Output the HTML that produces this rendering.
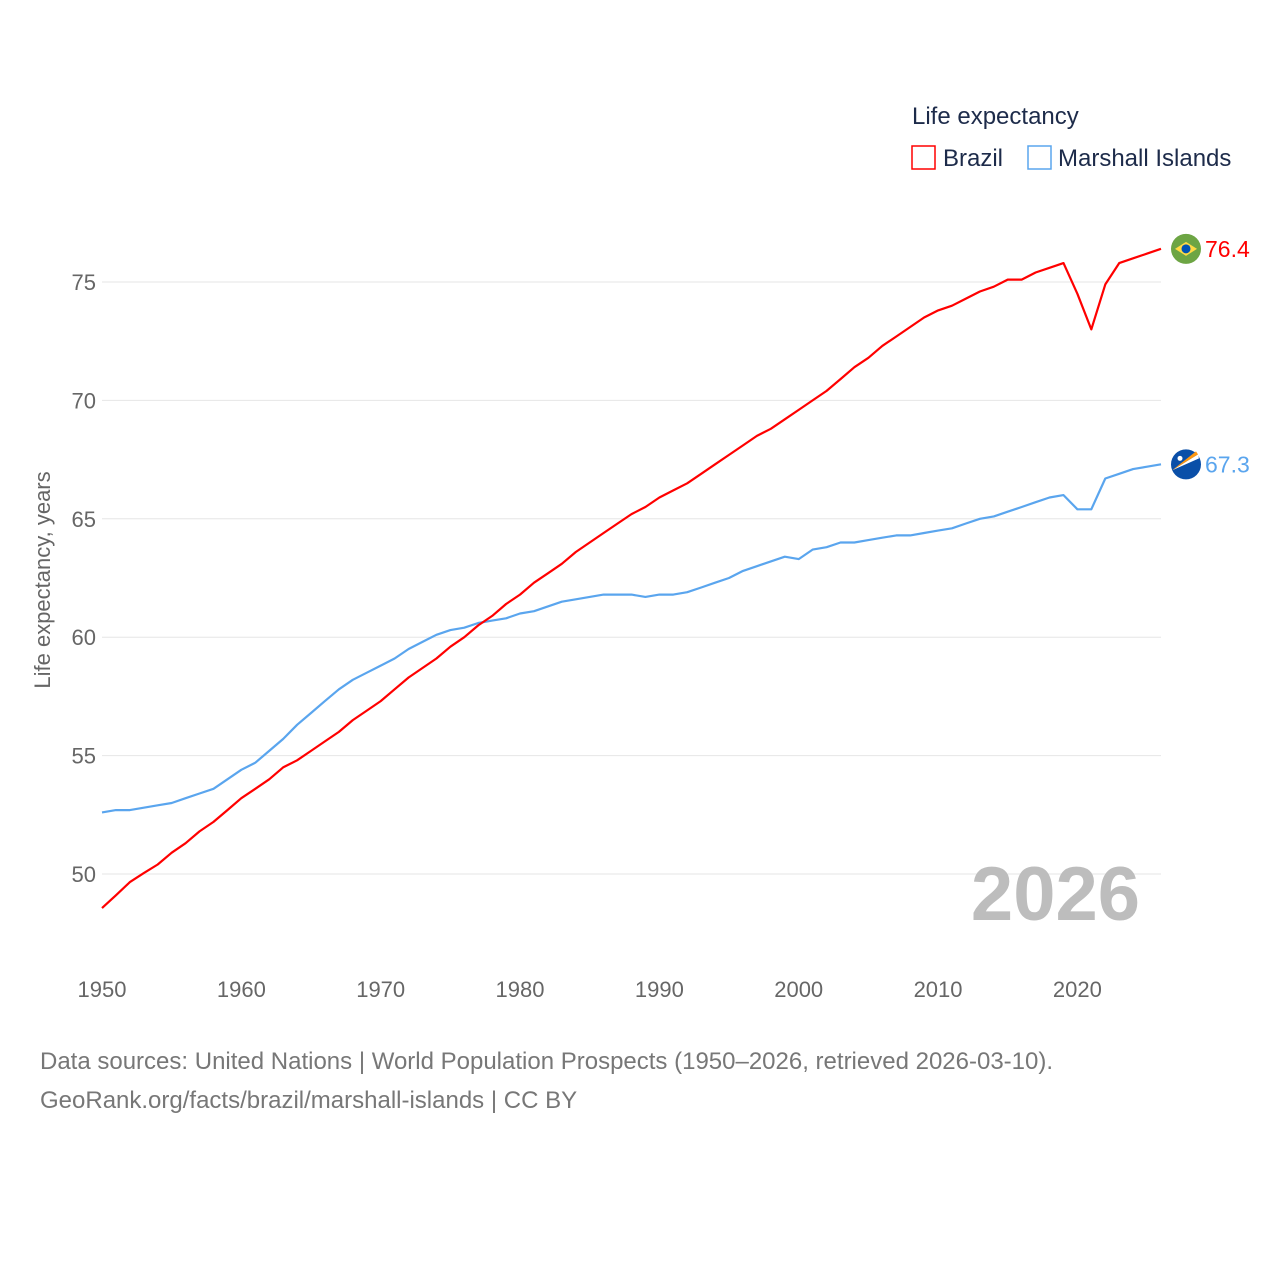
<!DOCTYPE html>
<html><head><meta charset="utf-8"><style>
body{margin:0;background:#fff;}
svg{display:block;font-family:"Liberation Sans",sans-serif;}
</style></head><body>
<svg id="chart" width="1280" height="1280">
<text x="912" y="124" font-size="24" fill="#1d2b4a">Life expectancy</text>
<g><rect x="912" y="146" width="23" height="23" fill="none" stroke="#ff0000" stroke-width="1.5"/><text x="943" y="166" font-size="24" fill="#1d2b4a">Brazil</text></g>
<g><rect x="1028" y="146" width="23" height="23" fill="none" stroke="#5aa5ee" stroke-width="1.5"/><text x="1058" y="166" font-size="24" fill="#1d2b4a">Marshall Islands</text></g>
<text transform="translate(50,580) rotate(-90)" text-anchor="middle" font-size="22" fill="#666">Life expectancy, years</text>
<g id="grid"></g><g id="xt"></g><g id="lines"></g>
<text x="1140" y="920" text-anchor="end" font-size="76" font-weight="bold" fill="#bdbdbd">2026</text>
<text x="40" y="1069" font-size="24" fill="#777">Data sources: United Nations | World Population Prospects (1950–2026, retrieved 2026-03-10).</text>
<text x="40" y="1108" font-size="24" fill="#777">GeoRank.org/facts/brazil/marshall-islands | CC BY</text>
</svg>
<script>
const years=[];for(let y=1950;y<=2026;y++)years.push(y);
const brazil=[48.56,49.1,49.66,50.04,50.4,50.9,51.3,51.8,52.2,52.7,53.2,53.6,54.0,54.5,54.8,55.2,55.6,56.0,56.5,56.9,57.3,57.8,58.3,58.7,59.1,59.6,60.0,60.5,60.9,61.4,61.8,62.3,62.7,63.1,63.6,64.0,64.4,64.8,65.2,65.5,65.9,66.2,66.5,66.9,67.3,67.7,68.1,68.5,68.8,69.2,69.6,70.0,70.4,70.9,71.4,71.8,72.3,72.7,73.1,73.5,73.8,74.0,74.3,74.6,74.8,75.1,75.1,75.4,75.6,75.8,74.5,73.0,74.9,75.8,76.0,76.2,76.4];
const marshall=[52.6,52.7,52.7,52.8,52.9,53.0,53.2,53.4,53.6,54.0,54.4,54.7,55.2,55.7,56.3,56.8,57.3,57.8,58.2,58.5,58.8,59.1,59.5,59.8,60.1,60.3,60.4,60.6,60.7,60.8,61.0,61.1,61.3,61.5,61.6,61.7,61.8,61.8,61.8,61.7,61.8,61.8,61.9,62.1,62.3,62.5,62.8,63.0,63.2,63.4,63.3,63.7,63.8,64.0,64.0,64.1,64.2,64.3,64.3,64.4,64.5,64.6,64.8,65.0,65.1,65.3,65.5,65.7,65.9,66.0,65.4,65.4,66.7,66.9,67.1,67.2,67.3];
const yTicks=[50,55,60,65,70,75];
const xTicks=[1950,1960,1970,1980,1990,2000,2010,2020];
const NS="http://www.w3.org/2000/svg";
const X=y=>102+(y-1950)*(1161-102)/76;
const Y=v=>874-(v-50)*(874-282)/25;
function mk(t,a,p){const e=document.createElementNS(NS,t);for(const k in a)e.setAttribute(k,a[k]);p.appendChild(e);return e;}
const grid=document.getElementById('grid');
yTicks.forEach(v=>{
const l=mk('line',{x1:102,x2:1161,y1:Y(v),y2:Y(v),stroke:'#e6e6e6','stroke-width':1},grid);


const t=mk('text',{x:96,y:Y(v)+8,'text-anchor':'end','font-size':22,fill:'#666'},grid);t.textContent=v;


});
const xt=document.getElementById('xt');
xTicks.forEach(v=>{
const t=mk('text',{x:X(v),y:997,'text-anchor':'middle','font-size':22,fill:'#666'},xt);t.textContent=v;


});
const lines=document.getElementById('lines');
function series(vals,col,name,lbl){
const p=mk('path',{d:vals.map((v,i)=>(i?'L':'M')+X(years[i]).toFixed(1)+','+Y(v).toFixed(1)).join(''),fill:'none',stroke:col,'stroke-width':2.2,'stroke-linejoin':'round'},lines);


const last=vals[vals.length-1];const cx=X(2026)+25,cy=Y(last);
const c=mk('circle',{cx:cx,cy:cy,r:15,fill:name==='brazil'?'#6da544':'#0a4fa8'},lines);


if(name==='brazil'){mk('path',{d:`M${cx-11},${cy}L${cx},${cy-7}L${cx+11},${cy}L${cx},${cy+7}Z`,fill:'#ffda44'},lines);mk('circle',{cx:cx,cy:cy,r:4.5,fill:'#0052b4'},lines);}
else{mk('path',{d:`M${cx-14},${cy+6}L${cx+12},${cy-10}L${cx+13},${cy-6}Z`,fill:'#fff'},lines);mk('path',{d:`M${cx-14},${cy+6}L${cx+12},${cy-10}L${cx+10},${cy-13}Z`,fill:'#ff9811'},lines);mk('circle',{cx:cx-6,cy:cy-6,r:2.5,fill:'#fff'},lines);}
const t=mk('text',{x:cx+19,y:cy+8,'font-size':23,fill:col},lines);t.textContent=lbl;


}
series(marshall,'#5aa5ee','marshall-islands',marshall[marshall.length-1].toFixed(1));
series(brazil,'#ff0000','brazil',brazil[brazil.length-1].toFixed(1));
</script>
</body></html>
